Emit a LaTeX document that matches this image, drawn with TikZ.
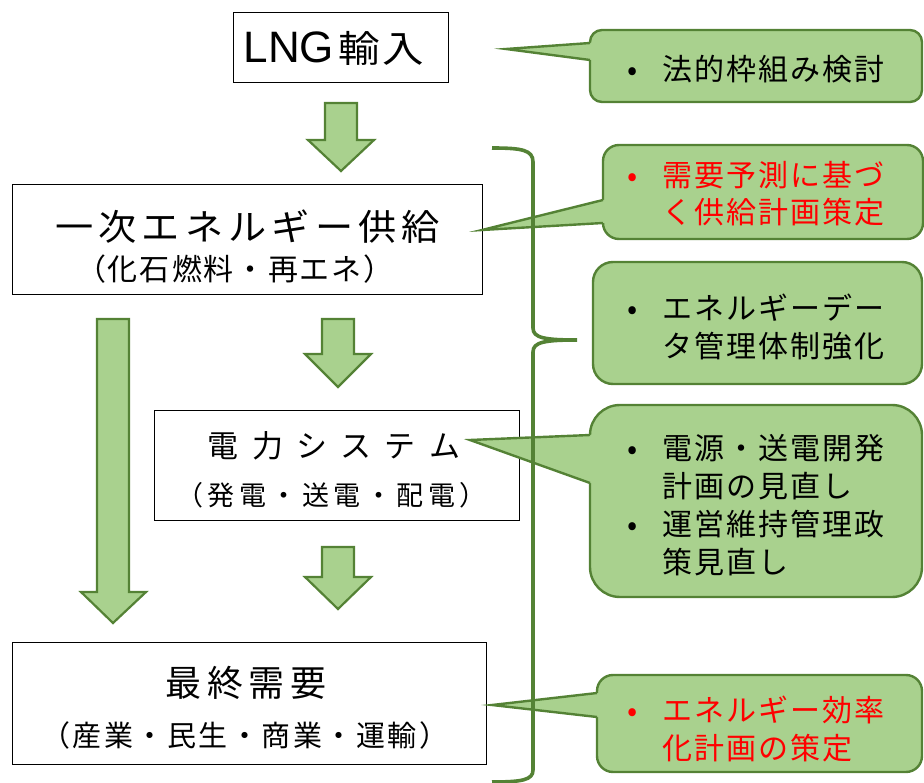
\documentclass[tikz,border=0pt]{standalone}
\usepackage{fontspec}
\setmainfont{Noto Sans CJK JP}
\newfontfamily\latf{Liberation Sans}
\definecolor{gfill}{HTML}{A9D18E}
\definecolor{gline}{HTML}{548235}
\newcommand\jfont[1]{\fontsize{#1pt}{#1pt}\selectfont}
\makeatletter
\newcommand\spread[2]{\@tfor\spr@c:=#2\do{\makebox[#1][c]{\spr@c}}}
\makeatother
\newcommand\blt{\makebox[14pt][c]{•}\hspace{22pt}}
\newcommand\ind{\hspace*{36pt}}
\newcommand\blockarrow[4]{%
  \draw[barr] (#1-16,#2) -- (#1+16,#2) -- (#1+16,#3) -- (#1+33,#3) -- (#1,#4)
    -- (#1-33,#3) -- (#1-16,#3) -- cycle;}
% #1 x0, #2 y0, #3 x1, #4 y1, #5 radius, #6 tip name, #7 base top y, #8 base bottom y
\newcommand\calloutshape[8]{%
  \draw[cbox, rounded corners=#5pt] (#1,#2) rectangle (#3,#4);
  \fill[gfill] (#6) -- (#1,#7) -- (#1+5,#7) -- (#1+5,#8) -- (#1,#8) -- cycle;
  \draw[cline] (#1,#7) -- (#6) -- (#1,#8);}
\begin{document}
\begin{tikzpicture}[x=1pt,y=-1pt,
  box/.style={draw=black, line width=1.3pt, fill=white, inner sep=0pt, anchor=north west},
  barr/.style={draw=gline, line width=2.2pt, fill=gfill, line join=miter},
  cbox/.style={draw=gline, line width=2.4pt, fill=gfill},
  cline/.style={draw=gline, line width=2.4pt, line join=miter, miter limit=30},
  brk/.style={draw=gline, line width=3.6pt},
  ctext/.style={anchor=base west, align=left, inner sep=0pt,
    font=\fontsize{30pt}{38pt}\selectfont},
  ttext/.style={anchor=base, inner sep=0pt}]
\useasboundingbox (0,0) rectangle (924,783);

% main boxes
\node[box, minimum width=215pt, minimum height=70pt] (lng) at (233,12) {};
\node[box, minimum width=470pt, minimum height=110pt] (pes) at (12,184) {};
\node[box, minimum width=365pt, minimum height=110pt] (elec) at (154,410) {};
\node[box, minimum width=474pt, minimum height=122pt] (fin) at (12,642) {};

% block arrows
\blockarrow{341}{103}{140}{171}
\blockarrow{338}{319}{354}{387}
\blockarrow{338}{547}{577}{609}
\draw[barr] (97,319) -- (129,319) -- (129,592) -- (146,592) -- (113,623)
  -- (81,592) -- (97,592) -- cycle;

% pointer tips
\coordinate (t1) at (506,49);
\coordinate (t2) at (482,230);
\coordinate (t4) at (470,440);
\coordinate (t5) at (492,705);

% callouts
\calloutshape{590}{30}{922}{102}{12}{t1}{43}{60}
\calloutshape{603}{145}{923}{239}{16}{t2}{200}{223}
\draw[cbox, rounded corners=20pt] (593,262) rectangle (922,384);
\calloutshape{590}{405}{922}{597}{30}{t4}{435}{483}
\calloutshape{597}{675}{922}{772}{16}{t5}{693}{717}

% bracket
\draw[brk] (492,148) .. controls (522,148) and (533,150) .. (533,162)
  -- (533,328) .. controls (533,338) and (545,340) .. (577,340)
  .. controls (545,340) and (533,342) .. (533,352)
  -- (533,770) .. controls (533,780) and (522,782) .. (492,782);

% box texts
\node[anchor=base west, inner sep=0pt] (lngT) at (243.5,63)
  {{\latf\fontsize{44pt}{44pt}\selectfont LNG}\hspace{3pt}{\jfont{37}\addfontfeature{FakeStretch=1.12}\spread{44pt}{輸入}}};
\node[ttext, font=\jfont{36}] (pesT) at (247.5,241) {\addfontfeature{FakeStretch=1.06}\spread{43.3pt}{一次エネルギー供給}};
\node[ttext, font=\jfont{30}] (pesS) at (235,281) {\spread{32pt}{（化石燃料・再エネ）}};
\node[ttext, font=\jfont{31}] (elecT) at (334,457) {\spread{44.3pt}{電力システム}};
\node[ttext, font=\jfont{27}] (elecS) at (331.5,505) {\spread{31.5pt}{（発電・送電・配電）}};
\node[ttext, font=\jfont{36}] (finT) at (246,696) {\spread{41.7pt}{最終需要}};
\node[ttext, font=\jfont{29}] (finS) at (245,746) {\spread{31.5pt}{（産業・民生・商業・運輸）}};

% callout texts (anchor = baseline of last line)
\node[ctext] (c1) at (625,81) {\blt\spread{32pt}{法的枠組み検討}};
\node[ctext, text=red, font=\fontsize{30pt}{37pt}\selectfont] (c2) at (625,224)
  {\blt\spread{32pt}{需要予測に基づ}\\\ind\spread{32pt}{く供給計画策定}};
\node[ctext] (c3) at (625,358)
  {\blt\spread{32pt}{エネルギーデー}\\\ind\spread{32pt}{タ管理体制強化}};
\node[ctext] (c4) at (625,573)
  {\blt\spread{32pt}{電源・送電開発}\\\ind\spread{32pt}{計画の見直し}\\\blt\spread{32pt}{運営維持管理政}\\\ind\spread{32pt}{策見直し}};
\node[ctext, text=red] (c5) at (625,759)
  {\blt\spread{32pt}{エネルギー効率}\\\ind\spread{32pt}{化計画の策定}};
\end{tikzpicture}
\end{document}
